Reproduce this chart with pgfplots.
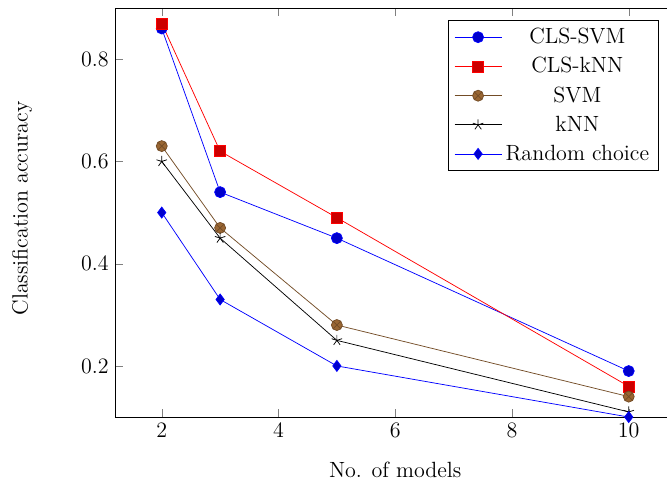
\documentclass[border=0pt]{standalone}
\usepackage{pgfplots}
\pgfplotsset{compat=1.18}
\usetikzlibrary{calc}

\begin{document}
\begin{tikzpicture}
\begin{axis}[
    scale only axis,
    width=305.4pt, height=222.9pt,
    xmin=1.2, xmax=10.8, ymin=0.1, ymax=0.9,
    xtick={2,4,6,8,10}, ytick={0.2,0.4,0.6,0.8},
    tick label style={font=\large},
    label style={font=\large},
    xlabel={No. of models}, ylabel={Classification accuracy},
    xlabel style={at={(axis description cs:0.5,-0.1297)}, anchor=center},
    ylabel style={at={(axis description cs:-0.166,0.51)}, anchor=center},
    every axis plot/.append style={mark size=3pt},
    legend pos=north east,
    legend cell align=center,
    legend style={font=\large, row sep=2pt},
    legend image code/.code={\draw[mark repeat=2,mark phase=2] plot coordinates {(0cm,0cm) (0.45cm,0cm) (0.9cm,0cm)};},
]
\addplot coordinates {(2,0.86) (3,0.54) (5,0.45) (10,0.19)};
\addplot coordinates {(2,0.87) (3,0.62) (5,0.49) (10,0.16)};
\addplot coordinates {(2,0.63) (3,0.47) (5,0.28) (10,0.14)};
\addplot coordinates {(2,0.60) (3,0.45) (5,0.25) (10,0.11)};
\addplot coordinates {(2,0.50) (3,0.33) (5,0.20) (10,0.10)};
\legend{CLS-SVM, CLS-kNN, SVM, kNN, Random choice}
\end{axis}
\pgfresetboundingbox
\path[use as bounding box] ($(current axis.south west)+(-62.7pt,-34.9pt)$) rectangle ($(current axis.north west)+(300.8pt,4.4pt)$);
\end{tikzpicture}
\end{document}
